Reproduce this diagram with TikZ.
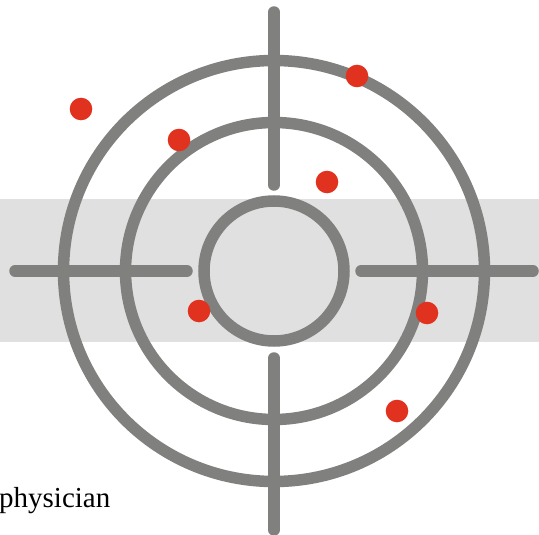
\documentclass[tikz,border=0pt]{standalone}
\usepackage{fontspec}
\setmainfont{Liberation Serif}
\usepackage{xcolor}
\usepackage{tikz}
\usetikzlibrary{positioning}
\definecolor{ringgray}{RGB}{128,128,126}
\definecolor{bandgray}{RGB}{224,224,224}
\definecolor{hitred}{RGB}{224,50,30}
\tikzset{
  ringline/.style={draw=ringgray, line width=11.5pt},
  crossline/.style={draw=ringgray, line width=11.5pt, line cap=round},
  hitdot/.style={circle, fill=hitred, minimum size=22.6pt, inner sep=0pt},
  caption/.style={anchor=base west, inner sep=0pt, font=\fontsize{29}{34}\selectfont}
}

\begin{document}
\begin{tikzpicture}[x=1pt, y=-1pt]
\useasboundingbox (0,0) rectangle (539,535);
\fill[bandgray] (0,199) rectangle (539,342);

\coordinate (centre) at (274,271);
\draw[ringline] (centre) circle (210.5);
\draw[ringline] (centre) circle (148.5);
\draw[ringline] (centre) circle (70);

\draw[crossline] (274,12) -- (274,185);
\draw[crossline] (274,358) -- (274,530);
\draw[crossline] (15,271) -- (187,271);
\draw[crossline] (361,271) -- (533,271);

\node[hitdot] (hit1) at (81,109) {};
\node[hitdot] (hit2) at (179,140) {};
\node[hitdot] (hit3) at (357,76) {};
\node[hitdot] (hit4) at (327,182) {};
\node[hitdot] (hit5) at (199,311) {};
\node[hitdot] (hit6) at (427,313) {};
\node[hitdot] (hit7) at (397,411) {};

\node[caption] (label) at (-1,507) {physician};
\end{tikzpicture}
\end{document}
